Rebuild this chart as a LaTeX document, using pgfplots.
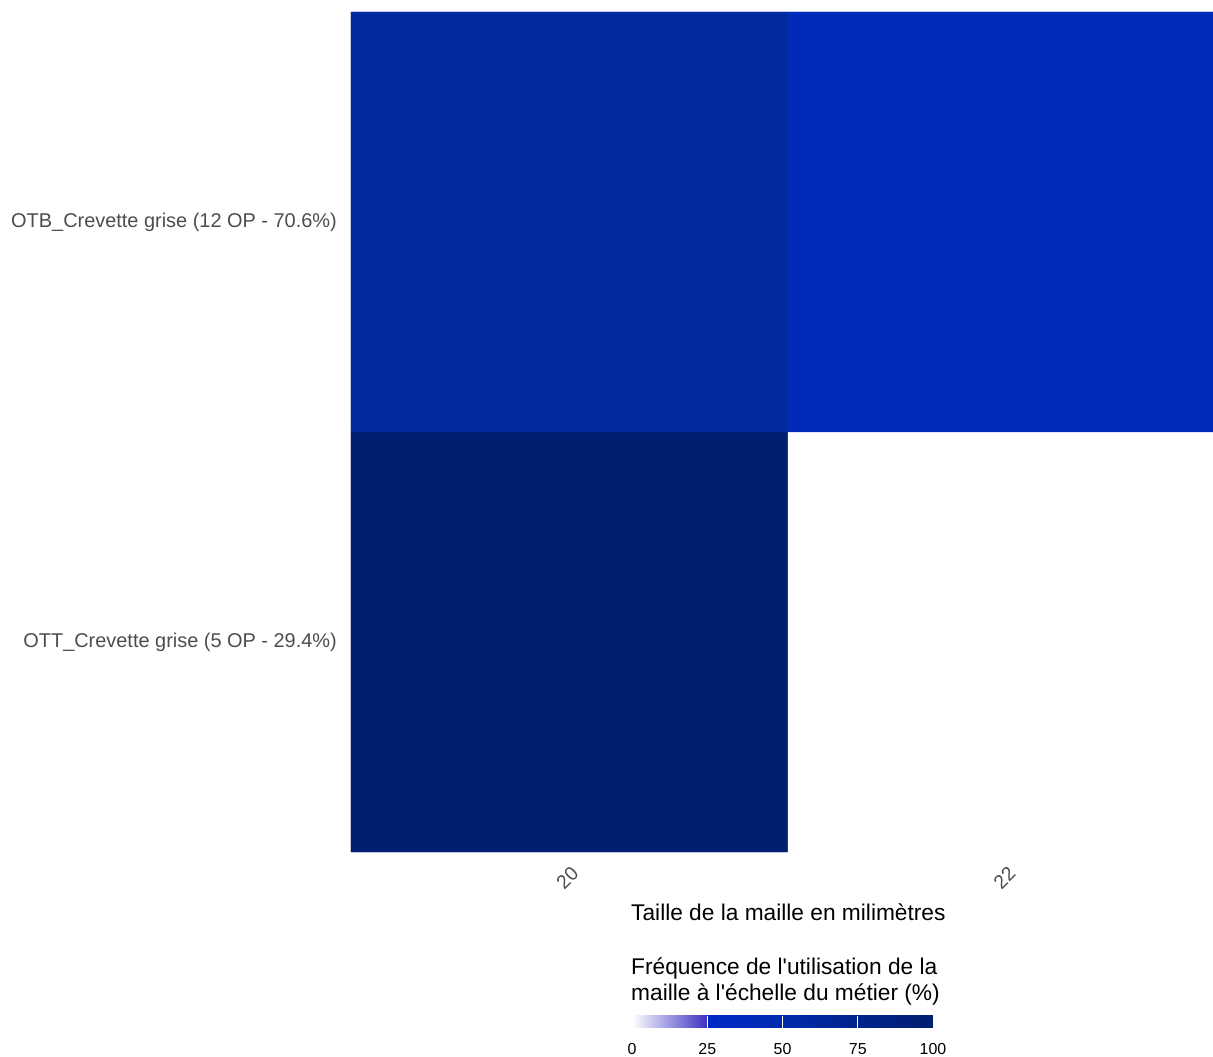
\documentclass[border=0pt]{standalone}
\usepackage{pgfplots}
\pgfplotsset{compat=1.18}
\usepackage{fontspec}
\setmainfont{Liberation Sans}
\definecolor{tickgray}{HTML}{4D4D4D}
\begin{document}
\begin{tikzpicture}
\clip (-351bp,-205bp) rectangle (862bp,852bp);
\begin{axis}[
  name=ax,
  at={(0,0)}, anchor=south west,
  scale only axis,
  width=874bp, height=840bp,
  xmin=-0.5, xmax=1.5, ymin=-0.5, ymax=1.5,
  axis line style={draw=none},
  major tick length=0pt,
  xtick={0,1}, xticklabels={20,22},
  ytick={0,1}, yticklabels={OTT\_Crevette grise (5 OP - 29.4\%), OTB\_Crevette grise (12 OP - 70.6\%)},
  /pgf/number format/assume math mode=true,
  xticklabel style={font=\fontsize{19.5}{22}\selectfont, text=tickgray, rotate=45, anchor=east, inner sep=0pt, xshift=-9bp, yshift=-17bp},
  yticklabel style={font=\fontsize{20}{23}\selectfont, text=tickgray, anchor=east, inner sep=0pt, xshift=-14bp},
  colormap={maille}{rgb255(0)=(255,255,255); rgb255(249)=(60,50,195); rgb255(250)=(0,40,198); rgb255(417)=(0,43,184); rgb255(583)=(0,41,160); rgb255(750)=(0,34,140); rgb255(1000)=(0,31,112)},
  point meta min=0, point meta max=100,
  colorbar horizontal,
  colorbar style={
    scale only axis,
    width=301bp, height=12bp,
    at={(parent axis.south west)}, anchor=north west,
    xshift=281bp, yshift=-155bp,
    xtick={0,25,50,75,100},
    axis line style={draw=none},
    xtick style={draw=white, line width=1bp},
    major tick length=12bp,
    tick align=inside,
    xtick pos=lower,
    xticklabel style={font=\fontsize{16}{18}\selectfont, text=black, inner sep=0pt, anchor=north, yshift=-16bp},
    /pgf/number format/assume math mode=true,
  },
]
\addplot[matrix plot*, mesh/cols=2, point meta=explicit] coordinates {
  (0,0) [100] (1,0) [0]
  (0,1) [58.3] (1,1) [41.7]
};
\end{axis}
\node[anchor=base west, inner sep=0pt, font=\fontsize{22.8}{26}\selectfont] at (280bp,-68bp) {Taille de la maille en milimètres};
\node[anchor=base west, inner sep=0pt, font=\fontsize{22.8}{26}\selectfont] at (280bp,-122bp) {Fréquence de l\textquotesingle utilisation de la};
\node[anchor=base west, inner sep=0pt, font=\fontsize{22.8}{26}\selectfont] at (280bp,-148bp) {maille à l\textquotesingle échelle du métier (\%)};
\end{tikzpicture}
\end{document}
